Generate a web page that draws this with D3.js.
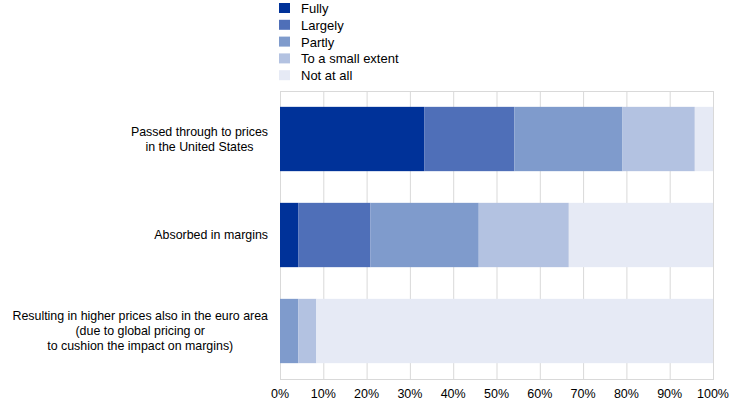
<!DOCTYPE html>
<html>
<head>
<meta charset="utf-8">
<script src="https://cdn.jsdelivr.net/npm/d3@7"></script>
<style>
  body { margin: 0; background: #fff; }
  svg { display: block; }
</style>
</head>
<body>
<svg width="744" height="406"></svg>
<script>
// share of respondents (%)
const categories = [
    ['Passed through to prices', 'in the United States'],
    ['Absorbed in margins'],
    ['Resulting in higher prices also in the euro area', '(due to global pricing or', 'to cushion the impact on margins)']
];
const seriesNames = ['Fully', 'Largely', 'Partly', 'To a small extent', 'Not at all'];
const fully = [33.3, 4.2, 0];
const largely = [20.8, 16.7, 0];
const partly = [25.0, 25.0, 4.2];
const smallExtent = [16.7, 20.8, 4.2];
const notAtAll = [4.2, 33.3, 91.6];
const xTicks = [0, 10, 20, 30, 40, 50, 60, 70, 80, 90, 100];

const colors = ['#003299', '#4f6fb8', '#7f9bcc', '#b3c2e1', '#e6eaf5'];
const font = 'Arial, "Liberation Sans", sans-serif';

const svg = d3.select('svg');

const plotLeft = 280, plotRight = 713, plotTop = 91, plotBottom = 379;

const x = d3.scaleLinear().domain([0, 100]).range([plotLeft, plotRight]);
const y = d3.scaleBand().domain(d3.range(categories.length)).range([plotTop, plotBottom]).paddingInner(0.33).paddingOuter(0.165);

// grid
svg.append('g')
    .selectAll('line')
    .data(xTicks)
    .join('line')
    .attr('x1', d => x(d) + 0.5)
    .attr('x2', d => x(d) + 0.5)
    .attr('y1', plotTop)
    .attr('y2', plotBottom)
    .style('stroke', '#d9d9d9');

svg.append('rect')
    .attr('x', plotLeft + 0.5)
    .attr('y', plotTop + 0.5)
    .attr('width', plotRight - plotLeft)
    .attr('height', plotBottom - plotTop)
    .style('fill', 'none')
    .style('stroke', '#d9d9d9');

// bars
const rows = categories.map((c, i) => {
    const o = { i };
    [fully, largely, partly, smallExtent, notAtAll].forEach((s, k) => { o[seriesNames[k]] = s[i]; });
    return o;
});
const stacked = d3.stack().keys(seriesNames)(rows);

svg.append('g')
    .selectAll('g')
    .data(stacked)
    .join('g')
    .style('fill', (d, k) => colors[k])
    .selectAll('rect')
    .data(d => d)
    .join('rect')
    .attr('x', d => x(d[0]))
    .attr('y', d => y(d.data.i))
    .attr('width', d => Math.max(0, x(d[1]) - x(d[0])))
    .attr('height', y.bandwidth());

// x tick labels
svg.append('g')
    .selectAll('text')
    .data(xTicks)
    .join('text')
    .text(d => d + '%')
    .attr('x', d => x(d))
    .attr('y', 398)
    .style('text-anchor', 'middle')
    .style('font-family', font)
    .style('font-size', '12.5px')
    .style('fill', '#000');

// category labels
categories.forEach((lines, i) => {
    const g = svg.append('text')
        .style('font-family', font)
        .style('font-size', '12.4px')
        .style('fill', '#000')
        .style('text-anchor', 'middle');
    const cy = y(i) + y.bandwidth() / 2;
    const lh = 15;
    const y0 = cy - (lines.length - 1) * lh / 2 + 4;
    const spans = lines.map((l, j) => g.append('tspan').text(l).attr('y', y0 + j * lh));
    const w = d3.max(spans, s => s.node().getComputedTextLength());
    spans.forEach(s => s.attr('x', 268 - w / 2));
});

// legend
const legend = svg.append('g')
    .selectAll('g')
    .data(seriesNames)
    .join('g')
    .attr('transform', (d, k) => `translate(279, ${3 + k * 16.8})`);
legend.append('rect')
    .attr('width', 11)
    .attr('height', 10)
    .style('fill', (d, k) => colors[k]);
legend.append('text')
    .text(d => d)
    .attr('x', 22)
    .attr('y', 10)
    .style('font-family', font)
    .style('font-size', '13px')
    .style('fill', '#000');
</script>
</body>
</html>
